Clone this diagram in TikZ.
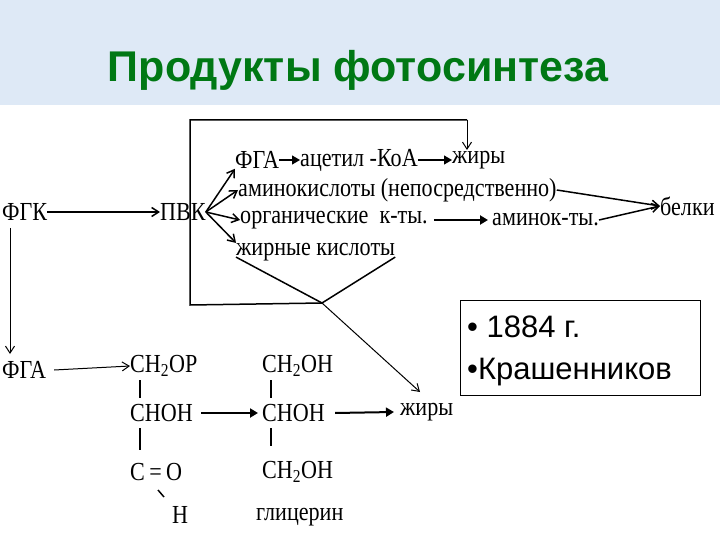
\documentclass[tikz,border=0pt]{standalone}
\usepackage{fontspec}
\setmainfont{Liberation Serif}[FakeStretch=0.85]
\newfontfamily\sansf{Liberation Sans}
\usetikzlibrary{arrows.meta}
\definecolor{band}{RGB}{222,233,246}
\definecolor{ttl}{RGB}{0,120,20}
\begin{document}
\begin{tikzpicture}[x=1pt,y=-1pt,
  t/.style={inner sep=0pt,font=\fontsize{26}{26}\selectfont,anchor=west},
  ln/.style={line width=1.5pt},
  ar/.style={line width=1.5pt,-{Straight Barb[length=7pt,width=9pt]}},
  far/.style={line width=2pt,-{Triangle[length=8pt,width=9pt]}}]
\useasboundingbox (0,0) rectangle (720,540);
\fill[band] (0,0) rectangle (720,105);
\node[font=\sansf\bfseries\fontsize{43}{43}\selectfont,text=ttl] (title) at (358,70) {Продукты фотосинтеза};
% top part
\node[t] (fgk) at (2,212) {ФГК};
\node[t] (pvk) at (160,212) {ПВК};
\draw[ar] (fgk.east) -- (pvk.west);
\node[t] (fga1) at (235,160) {ФГА};
\node[t] (acoa) at (300,160) {ацетил -КоА};
\node[t] (fat1) at (452,160) {жиры};
\draw[far,line width=1.2pt] (fga1.east) -- (acoa.west);
\draw[far,line width=1.2pt] (acoa.east) -- (fat1.west);
\node[t] (amino) at (238,190) {аминокислоты (непосредственно)};
\node[t] (org) at (240,220) {органические\ \ к-ты.};
\node[t] (amk) at (492,220) {аминок-ты.};
\node[t] (fa) at (236,252) {жирные кислоты};
\node[t] (prot) at (660,206) {белки};
\draw[far] (org.east) ++(6,0) -- ([xshift=-4pt]amk.west);
\draw[ar] (amino.east) -- (prot.west);
\draw[ar] (amk.east) -- (prot.west);
\coordinate (p) at (pvk.east);
\draw[ar] (p) -- (fga1.south west);
\draw[ar] (p) -- (amino.west);
\draw[ar] (p) -- (org.west);
\draw[ar] (p) -- (fa.north west);
% loop
\coordinate (c1) at (190,305);
\coordinate (c2) at (190,120);
\coordinate (c3) at (467,120);
\coordinate (v) at (322,303);
\draw[ln] (v) -- (c1) -- (c2) -- (c3);
\draw[ar,line width=1pt] (c3) -- (467,150);
\draw[ln] ([yshift=4pt]fa.south west) -- (v) -- ([yshift=4pt]fa.south east);
% lower part
\node[t] (fga2) at (2,370) {ФГА};
\draw[ar,line width=1pt] (10,228) -- (10,354);
\node[t] (c2op) at (130,366) {CH\textsubscript{2}OP};
\draw[ar,line width=1pt] (fga2.east) ++(8,0) -- (c2op.west);
\node[t] (choh1) at (130,413) {CHOH};
\node[t] (co) at (130,472) {C\,=\,O};
\node[t] (h) at (172,515) {H};
\draw[ln] (140,380) -- (140,398);
\draw[ln] (140,428) -- (140,450);
\draw[ln] (158,490) -- (164,497);
\node[t] (g1) at (262,366) {CH\textsubscript{2}OH};
\node[t] (g2) at (262,413) {CHOH};
\node[t] (g3) at (262,472) {CH\textsubscript{2}OH};
\node[t] (gl) at (256,517) {глицерин};
\draw[ln] (271,380) -- (271,398);
\draw[ln] (271,428) -- (271,446);
\draw[far] (choh1.east) ++(8,0) -- ([xshift=-4pt]g2.west);
\node[t] (fat2) at (400,412) {жиры};
\draw[far] (g2.east) ++(10,0) -- ([xshift=-6pt]fat2.west);
\draw[ar,line width=1pt] (v) -- (420,392);
% box
\node[draw,line width=1.2pt,minimum width=240pt,minimum height=95pt,anchor=north west] (box) at (460,300) {};
\node[inner sep=0pt,anchor=west,font=\sansf\fontsize{31}{31}\selectfont] (y) at (467,327) {• 1884 г.};
\node[inner sep=0pt,anchor=west,font=\sansf\fontsize{31}{31}\selectfont] (k) at (467,372) {•Крашенников};
\end{tikzpicture}
\end{document}
